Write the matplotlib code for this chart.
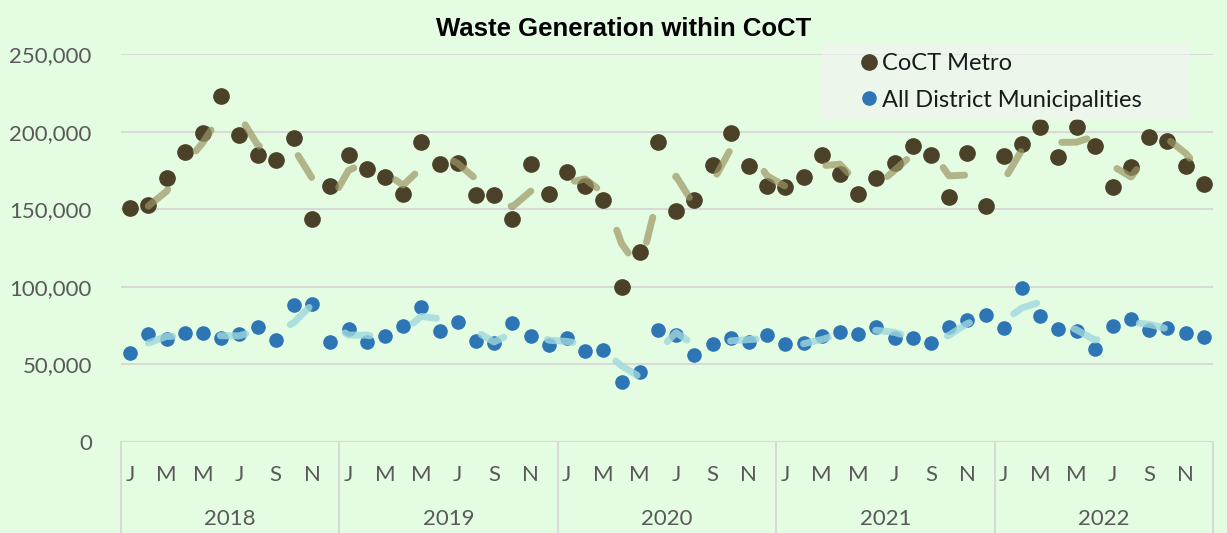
import numpy as np
import pandas as pd
import matplotlib
matplotlib.use("Agg")
import matplotlib.pyplot as plt
import matplotlib.transforms as mtrans
from matplotlib.lines import Line2D
from matplotlib.patches import Rectangle

# Monthly waste generation (tonnes), Jan 2018 - Dec 2022
years = ["2018", "2019", "2020", "2021", "2022"]
month_labels = ["J", "M", "M", "J", "S", "N"]

coct_metro = [151000, 153000, 170000, 187000, 199000, 223000, 198000, 185000, 182000, 196000, 144000, 165000,
              185000, 176000, 171000, 160000, 193000, 179000, 180000, 159000, 159000, 144000, 179000, 160000,
              174000, 165000, 156000, 100000, 122500, 193500, 149000, 156000, 178700, 199000, 178000, 165000,
              164500, 171000, 185000, 173000, 160000, 170000, 180000, 191000, 185000, 158000, 186000, 152000,
              184500, 192000, 202700, 183400, 203000, 191000, 164500, 177000, 196500, 194000, 178000, 166400]

district_munis = [57600, 69900, 66200, 70300, 70100, 66900, 69900, 74000, 65600, 88400, 88800, 64700,
                  73000, 64700, 68200, 74600, 87300, 71600, 77200, 65300, 63600, 76800, 68400, 62800,
                  66800, 58700, 59300, 38900, 45000, 72200, 68800, 55900, 63000, 67300, 64700, 68800,
                  63000, 63600, 68400, 70700, 69900, 74000, 67300, 66900, 63600, 74000, 78700, 82100,
                  73700, 99000, 81300, 73000, 71600, 59800, 74800, 79300, 72400, 73300, 70500, 67500]

bg = "#e4fde2"
brown = "#4b4128"
blue = "#2e75b6"
grid_col = "#d9d9d9"
text_col = "#595959"

plt.rcParams["font.family"] = ["Lato", "DejaVu Sans"]

fig = plt.figure(figsize=(12.27, 5.33), dpi=100, facecolor=bg)
ax = fig.add_axes([121 / 1227, 1 - 442 / 533, 1092 / 1227, 388 / 533])
ax.set_facecolor(bg)

x = np.arange(len(coct_metro))

# 2-period moving average trendlines
ma_metro = pd.Series(coct_metro).rolling(2).mean()
ma_dist = pd.Series(district_munis).rolling(2).mean()

ax.plot(x, coct_metro, "o", color=brown, ms=11, zorder=3, label="CoCT Metro")
ax.plot(x, district_munis, "o", color=blue, ms=9.5, zorder=3, label="All District Municipalities")
ax.plot(x[1:], ma_metro[1:], color="#9c9664", alpha=0.7, lw=5, dashes=(3.7, 6.9),
        dash_capstyle="round", zorder=4)
ax.plot(x[1:], ma_dist[1:], color="#9fd8de", alpha=0.8, lw=5, dashes=(3.7, 6.9),
        dash_capstyle="round", zorder=4)

ax.set_xlim(-0.5, 59.5)
ax.set_ylim(0, 250000)
ax.set_yticks(np.arange(0, 250001, 50000))
ax.set_yticklabels([f"{v:,}" for v in range(0, 250001, 50000)], fontsize=16, color=text_col)
ax.tick_params(axis="y", length=0, pad=21)
ax.tick_params(axis="x", length=0, labelbottom=False)
ax.yaxis.grid(True, color=grid_col, lw=1.5)
ax.set_axisbelow(True)
for s in ax.spines.values():
    s.set_visible(False)

# two-level category axis
trans = mtrans.blended_transform_factory(ax.transData, ax.transAxes)
ax.axhline(0, color=grid_col, lw=1.5, zorder=1)
for k in range(len(years) + 1):
    ax.add_line(Line2D([k * 12 - 0.5] * 2, [0, -0.26], transform=trans, color=grid_col,
                       lw=1.5, clip_on=False))
for k, yr in enumerate(years):
    for j, m in enumerate(month_labels):
        ax.text(k * 12 + j * 2, -0.085, m, transform=trans, ha="center", va="center",
                fontsize=16, color=text_col)
    ax.text(k * 12 + 5.5, -0.198, yr, transform=trans, ha="center", va="center",
            fontsize=16, color=text_col)

fig.text(624 / 1227, 1 - 29 / 533, "Waste Generation within CoCT", ha="center", va="center",
         fontsize=18.5, fontweight="bold", color="black", family="Liberation Sans")

# legend box (semi-transparent, overlaps the top gridline)
fig.patches.append(Rectangle((822 / 1227, 1 - 120 / 533), 368 / 1227, 76 / 533,
                             transform=fig.transFigure, facecolor="#f2f2f2", alpha=0.6,
                             edgecolor="none", zorder=1))
leg = fig.legend(loc="center left", bbox_to_anchor=(860 / 1227, 1 - 82 / 533), frameon=False,
                 fontsize=17, handletextpad=0.15, handlelength=0.8, borderpad=0,
                 borderaxespad=0, labelspacing=0.65)
for t in leg.get_texts():
    t.set_color("#1a1a1a")

fig.savefig("out.png", dpi=100, facecolor=bg)
